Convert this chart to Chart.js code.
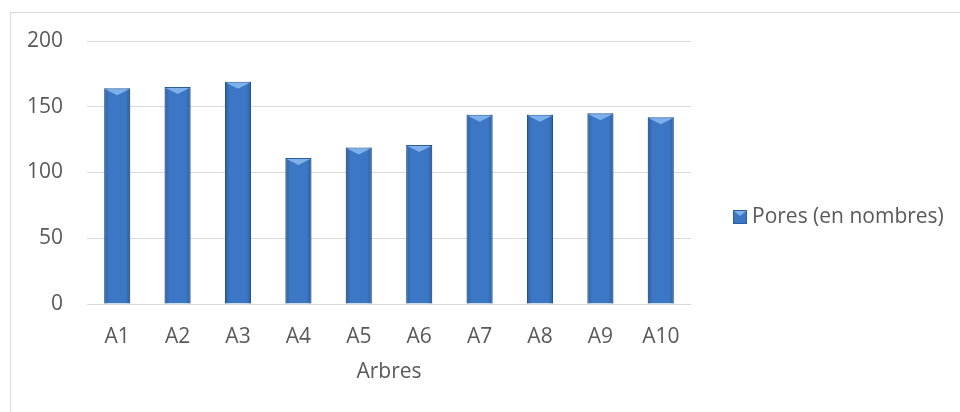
<!DOCTYPE html>
<html>
<head>
<meta charset="utf-8">
<script src="https://cdn.jsdelivr.net/npm/chart.js@4"></script>
<style>
  html, body { margin: 0; padding: 0; background: #fff; }
  #wrap { width: 960px; height: 412px; }
</style>
</head>
<body>
<div id="wrap"><canvas id="bar-chart" width="960" height="412"></canvas></div>
<script>
const categories = ["A1", "A2", "A3", "A4", "A5", "A6", "A7", "A8", "A9", "A10"];
const pores = [164, 165, 169, 111, 119, 121, 144, 144, 145, 142];
const seriesName = "Pores (en nombres)";
const axisTitle = "Arbres";
const yTicks = [0, 50, 100, 150, 200];

const textColor = "#595959";
const gridColor = "#d9d9d9";
const barColor = "#3b77c4";
const barEdge = "#2d5e9f";
const font = { family: "Open Sans", size: 21 };

// light frame, bevel look of the bars, legend on the right
const bevel = {
  id: "bevel",
  beforeDraw(chart) {
    const ctx = chart.ctx;
    ctx.save();
    ctx.strokeStyle = "#d9d9d9";
    ctx.lineWidth = 1;
    ctx.strokeRect(10.5, 12.5, chart.width + 10, chart.height + 10);
    ctx.restore();
  },
  afterDatasetsDraw(chart) {
    const ctx = chart.ctx;
    chart.getDatasetMeta(0).data.forEach(bar => {
      const l = bar.x - bar.width / 2, r = bar.x + bar.width / 2;
      const t = bar.y, b = bar.base;
      ctx.save();
      const g = ctx.createLinearGradient(l, 0, r, 0);
      g.addColorStop(0, "rgba(20,50,100,0.35)");
      g.addColorStop(0.18, "rgba(20,50,100,0)");
      g.addColorStop(0.82, "rgba(20,50,100,0)");
      g.addColorStop(1, "rgba(20,50,100,0.35)");
      ctx.fillStyle = g;
      ctx.fillRect(l, t, r - l, b - t);
      ctx.fillStyle = "#7fb0ea";
      ctx.beginPath();
      ctx.moveTo(l + 1, t + 1);
      ctx.lineTo(r - 1, t + 1);
      ctx.lineTo(bar.x, t + 7);
      ctx.closePath();
      ctx.fill();
      ctx.restore();
    });
  },
  afterDraw(chart) {
    const ctx = chart.ctx;
    const bx = 733, cy = 217, s = 14;
    ctx.save();
    ctx.fillStyle = barColor;
    ctx.fillRect(bx, cy - s / 2, s, s);
    ctx.strokeStyle = barEdge;
    ctx.strokeRect(bx + 0.5, cy - s / 2 + 0.5, s - 1, s - 1);
    ctx.fillStyle = "#7fb0ea";
    ctx.beginPath();
    ctx.moveTo(bx + 1, cy - s / 2 + 1);
    ctx.lineTo(bx + s - 1, cy - s / 2 + 1);
    ctx.lineTo(bx + s / 2, cy - s / 2 + 6);
    ctx.closePath();
    ctx.fill();
    ctx.fillStyle = textColor;
    ctx.font = font.size + "px " + font.family;
    ctx.textBaseline = "middle";
    ctx.fillText(chart.data.datasets[0].label, bx + s + 5, cy);
    ctx.restore();
  }
};

new Chart(document.getElementById("bar-chart"), {
  type: "bar",
  data: {
    labels: categories,
    datasets: [{
      label: seriesName,
      data: pores,
      backgroundColor: barColor,
      borderColor: barEdge,
      borderWidth: 1,
      barPercentage: 0.43,
      categoryPercentage: 1
    }]
  },
  options: {
    responsive: false,
    animation: false,
    layout: { padding: { top: 41, bottom: 17, left: 0, right: 269 } },
    plugins: {
      tooltip: { enabled: false },
      legend: { display: false }
    },
    scales: {
      x: {
        grid: { display: false },
        border: { display: false },
        ticks: { color: textColor, font: font, padding: 12, maxRotation: 0 },
        title: { display: true, text: axisTitle, color: textColor, font: font, padding: { top: 0, bottom: 10 } },
        afterFit(scale) { scale.height = 91; }
      },
      y: {
        min: 0,
        max: 200,
        afterBuildTicks(scale) { scale.ticks = yTicks.map(v => ({ value: v })); },
        grid: { color: gridColor, drawTicks: false },
        border: { display: false },
        ticks: { color: textColor, font: font, padding: 24 },
        afterFit(scale) { scale.width = 87; }
      }
    }
  },
  plugins: [bevel]
});
</script>
</body>
</html>
